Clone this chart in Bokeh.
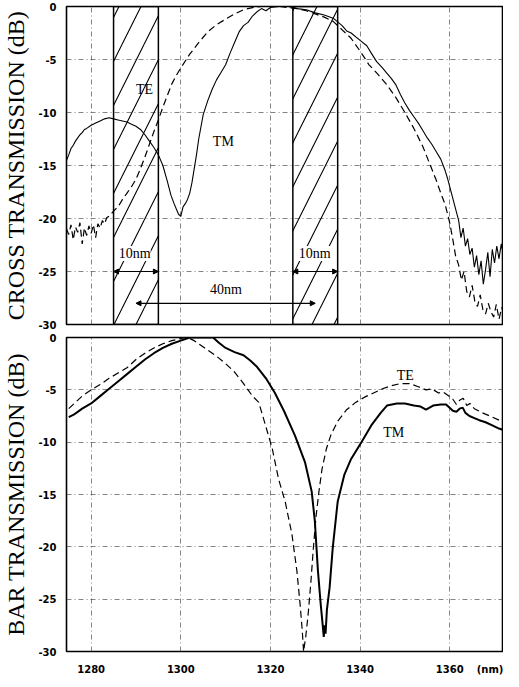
from bokeh.plotting import figure
from bokeh.layouts import column
from bokeh.models import Range1d, FixedTicker, Label, Arrow, NormalHead
from bokeh.embed import file_html
from bokeh.resources import INLINE

# ---------------- data ----------------
x_ticks = [1280, 1300, 1320, 1340, 1360]
unit_tick = 1369
y_ticks = [0, -5, -10, -15, -20, -25, -30]

band_left = [1285, 1325]
band_right = [1295, 1335]

# Top panel: cross transmission
cross_te_x = [1274.5, 1275, 1275.5, 1276, 1276.5, 1277, 1277.5, 1278, 1278.5, 1279, 1279.5, 1280,
              1280.5, 1281, 1281.5, 1282, 1282.5, 1283, 1283.5, 1284, 1285, 1286, 1287, 1288, 1289,
              1290, 1291, 1292, 1293, 1294, 1295, 1296, 1297, 1298, 1299, 1300, 1302, 1304, 1306,
              1308, 1310, 1312, 1314, 1316, 1318, 1320, 1322, 1324, 1326, 1328, 1330, 1332, 1334,
              1336, 1338, 1340, 1342, 1344, 1346, 1348, 1350, 1352, 1354, 1355.5, 1357, 1358, 1359,
              1360, 1360.7, 1361.3, 1362, 1362.6, 1363.2, 1363.8, 1364.4, 1365, 1365.6, 1366.2,
              1366.8, 1367.4, 1368, 1368.6, 1369.2, 1369.8, 1370.4, 1371, 1371.6, 1372]
cross_te_y = [-21.0, -21.5, -20.6, -22.0, -20.8, -21.3, -20.4, -22.4, -20.9, -21.6, -20.7, -21.4,
              -20.6, -21.8, -20.5, -20.9, -20.2, -20.5, -19.9, -19.8, -19.3, -18.9, -18.2, -17.6, -17.0,
              -16.3, -15.3, -14.2, -13.0, -11.8, -10.7, -9.5, -8.4, -7.3, -6.5, -5.8, -4.5, -3.4, -2.4,
              -1.7, -1.2, -0.7, -0.3, -0.1, 0.0, 0.0, 0.0, -0.1, -0.2, -0.4, -0.7, -1.0, -1.4,
              -2.2, -3.0, -4.2, -5.5, -6.4, -7.4, -8.6, -10.0, -11.5, -13.2, -14.8, -16.4, -17.6, -18.7,
              -20.4, -22.0, -23.5, -24.4, -25.8, -25.0, -26.9, -27.4, -26.3, -27.8, -28.3,
              -27.2, -28.6, -29.0, -28.0, -28.8, -29.3, -28.1, -29.5, -28.4, -28.9]

cross_tm_x = [1274.5, 1275, 1275.5, 1276, 1276.5, 1277, 1277.5, 1278, 1278.5, 1279, 1280, 1281, 1282,
              1283, 1284, 1285, 1286, 1287, 1288, 1289, 1290, 1291, 1292, 1293, 1294, 1295, 1296, 1297,
              1297.8, 1298.5, 1299, 1299.5, 1300, 1300.5, 1301, 1301.5, 1302, 1302.5, 1303, 1303.5,
              1304, 1305, 1306, 1307, 1308, 1309, 1310, 1311, 1312, 1313, 1314, 1315, 1316, 1317, 1318,
              1319, 1320, 1322, 1324, 1326, 1328, 1330, 1332, 1334, 1336, 1337, 1338, 1340, 1341.5,
              1342.5, 1343.7, 1345, 1346, 1347, 1348, 1349, 1350, 1351, 1352, 1353, 1354, 1355, 1356,
              1357, 1358, 1359, 1359.5, 1360, 1360.5, 1361, 1361.5, 1362, 1362.5, 1363, 1363.5, 1364,
              1364.5, 1365, 1365.5, 1366, 1366.5, 1367, 1367.5, 1368, 1368.5, 1369, 1369.5, 1370,
              1370.5, 1371, 1371.5, 1372]
cross_tm_y = [-14.5, -14.0, -13.4, -13.1, -12.7, -12.4, -12.1, -11.9, -11.6, -11.5, -11.2, -11.0, -10.8,
              -10.6, -10.5, -10.6, -10.7, -10.8, -10.9, -11.1, -11.3, -11.6, -12.1, -12.7, -13.3, -14.0,
              -15.0, -16.5, -17.8, -18.6, -19.1, -19.6, -19.8, -18.9, -18.6, -18.2, -17.6, -16.6, -15.3,
              -14.0, -12.5, -10.2, -8.9, -7.8, -6.9, -6.2, -5.5, -4.4, -3.4, -2.4, -1.8, -1.5, -0.9,
              -0.5, -0.2, -0.4, -0.1, 0.0, 0.0, -0.2, -0.3, -0.6, -0.8, -1.1, -1.8, -2.3, -2.5, -3.2,
              -3.7, -4.4, -5.2, -5.8, -6.3, -6.8, -7.4, -8.3, -9.1, -9.8, -10.4, -11.0, -11.7, -12.4,
              -13.0, -13.7, -14.4, -15.5, -16.2, -17.0, -17.8, -18.6, -19.4, -20.2, -21.8, -20.9, -22.6,
              -21.9, -23.4, -22.8, -24.6, -23.5, -25.3, -24.0, -26.2, -24.8, -23.2, -25.5, -22.9, -24.2,
              -22.6, -23.8, -22.4, -23.5]

# Bottom panel: bar transmission
bar_te_x = [1275, 1276.5, 1278, 1280, 1282, 1284, 1286, 1288, 1290, 1292, 1294, 1296, 1298, 1300, 1301,
            1302, 1303, 1304, 1306, 1308, 1310, 1312, 1314, 1315, 1316, 1317.4, 1318.9, 1320.4, 1321.8,
            1323.3, 1324.8, 1325.9, 1326.6, 1327.1, 1327.4, 1327.9, 1328.4, 1329.0, 1329.6, 1330.2,
            1330.8, 1331.5, 1332.5, 1333.5, 1335, 1337, 1339, 1341, 1343, 1345, 1347, 1349, 1351, 1353,
            1354.7, 1356, 1357.5, 1358.5, 1359.5, 1360.7, 1361.5, 1362.2, 1363, 1363.8, 1364.5, 1365.5,
            1367.3, 1369.5, 1371, 1372]
bar_te_y = [-6.8, -6.2, -5.6, -5.0, -4.5, -3.9, -3.4, -2.9, -2.1, -1.5, -1.0, -0.6, -0.3, -0.1, 0.0,
            -0.1, -0.3, -0.6, -1.2, -1.8, -2.5, -3.3, -4.4, -5.0, -5.6, -6.2, -8.4, -10.6, -13.5,
            -15.7, -18.8, -22.3, -25.4, -28.0, -30.0, -28.5, -26.5, -23.5, -20.0, -17.0,
            -14.8, -12.6, -10.6, -9.3, -8.0, -6.9, -6.2, -5.7, -5.3, -4.9, -4.6, -4.4, -4.4, -4.7,
            -5.0, -4.9, -5.3, -5.2, -5.5, -5.9, -6.4, -6.0, -5.8, -6.5, -6.3, -6.8,
            -7.2, -7.6, -7.9, -8.1]

bar_tm_x = [1275, 1276, 1277, 1278, 1280, 1282, 1284, 1286, 1288, 1290, 1292, 1294, 1296, 1298, 1300,
            1302, 1304, 1306, 1307.2, 1308.5, 1310, 1312, 1314, 1315.5, 1317, 1319, 1321, 1323, 1325.5,
            1327.7, 1329.2, 1329.9, 1330.6, 1331.2, 1331.6, 1331.9, 1332.1, 1332.3, 1332.6, 1333.2,
            1333.9, 1335, 1336.5, 1338, 1340.3, 1342.5, 1344.6, 1346, 1348.2, 1350, 1352, 1353.5,
            1354.7, 1356.3, 1358, 1359.2, 1360.7, 1361.5, 1362.2, 1362.9, 1363.5, 1364.4, 1365.5,
            1366.6, 1368, 1369.5, 1371, 1372.4]
bar_tm_y = [-7.6, -7.4, -7.1, -6.8, -6.3, -5.6, -4.9, -4.2, -3.5, -2.8, -2.1, -1.5, -1.0, -0.6, -0.3,
            0.0, 0.0, 0.0, 0.0, -0.5, -1.0, -1.4, -1.7, -2.2, -2.8, -3.9, -5.3, -7.0, -9.4,
            -11.9, -14.7, -17.5, -22.3, -25.4, -27.2, -28.6, -27.5, -28.3, -26.0, -23.9,
            -20.1, -15.7, -13.1, -11.6, -10.0, -8.4, -7.2, -6.5, -6.3, -6.3, -6.5, -6.6,
            -6.9, -6.5, -6.4, -6.4, -7.0, -7.1, -6.8, -6.7, -7.2, -7.5, -7.7,
            -7.9, -8.1, -8.4, -8.7, -8.9]

X_START, X_END = 1274.5, 1372.0
SERIF = "Liberation Serif"
TICKFONT = "DejaVu Sans"


def style(p, ylabel):
    p.background_fill_color = "white"
    p.border_fill_color = "white"
    p.outline_line_color = "black"
    p.outline_line_width = 1.6
    p.yaxis.ticker = FixedTicker(ticks=y_ticks)
    p.yaxis.major_label_overrides = {v: str(v) for v in y_ticks}
    p.yaxis.axis_label = ylabel
    p.yaxis.axis_label_text_font = SERIF
    p.yaxis.axis_label_text_font_size = "24px"
    p.yaxis.axis_label_text_font_style = "normal"
    p.yaxis.axis_label_text_color = "black"
    p.yaxis.axis_label_standoff = 6
    p.yaxis.major_label_text_font = TICKFONT
    p.yaxis.major_label_text_font_size = "10px"
    p.yaxis.major_label_text_font_style = "bold"
    p.yaxis.major_label_text_color = "black"
    p.yaxis.major_label_standoff = 4
    p.yaxis.major_tick_line_color = None
    p.yaxis.minor_tick_line_color = None
    p.yaxis.axis_line_color = None
    for g in p.grid:
        g.grid_line_color = "#333333"
        g.grid_line_alpha = 0.75
        g.grid_line_dash = "5 3 1 3"
        g.grid_line_width = 0.8
    p.xgrid.ticker = FixedTicker(ticks=x_ticks)


# ---------------- top panel ----------------
p1 = figure(width=503, height=331, output_backend="svg", toolbar_location=None,
            x_range=Range1d(X_START, X_END), y_range=Range1d(-30, 0),
            x_axis_location=None,
            min_border_left=60, min_border_right=0, min_border_top=6, min_border_bottom=7)
style(p1, "CROSS TRANSMISSION (dB)")

p1.quad(left=band_left, right=band_right, bottom=-30, top=0,
        fill_alpha=0, hatch_pattern="/", hatch_color="black", hatch_scale=44,
        hatch_weight=1.1, line_color="black", line_width=1.5)

p1.line(cross_te_x, cross_te_y, line_color="black", line_width=1.2, line_dash="7 4")
p1.line(cross_tm_x, cross_tm_y, line_color="black", line_width=1.1)

for l, r in zip(band_left, band_right):
    p1.add_layout(Arrow(x_start=l, y_start=-25, x_end=r, y_end=-25, line_width=1.2,
                        start=NormalHead(size=5, fill_color="black", line_color="black"),
                        end=NormalHead(size=5, fill_color="black", line_color="black")))
centers = [(l + r) / 2 for l, r in zip(band_left, band_right)]
p1.add_layout(Arrow(x_start=centers[0], y_start=-28, x_end=centers[1], y_end=-28, line_width=1.2,
                    start=NormalHead(size=5, fill_color="black", line_color="black"),
                    end=NormalHead(size=5, fill_color="black", line_color="black")))

for x, y, t in [(1291.9, -7.8, "TE"), (1309.5, -12.7, "TM"), (1289.7, -23.3, "10nm"),
                (1329.9, -23.3, "10nm"), (1310.1, -26.7, "40nm")]:
    p1.add_layout(Label(x=x, y=y, text=t, text_font=SERIF, text_font_size="14px",
                        text_align="center", text_baseline="middle", text_color="black",
                        background_fill_color="white" if "nm" in t else None))

# ---------------- bottom panel ----------------
p2 = figure(width=503, height=346, output_backend="svg", toolbar_location=None,
            x_range=Range1d(X_START, X_END), y_range=Range1d(-30, 0),
            min_border_left=60, min_border_right=0, min_border_top=6, min_border_bottom=22)
style(p2, "BAR TRANSMISSION (dB)")
p2.xaxis.ticker = FixedTicker(ticks=x_ticks + [unit_tick])
p2.xaxis.major_label_overrides = {unit_tick: "(nm)"}
p2.xaxis.major_label_text_font = TICKFONT
p2.xaxis.major_label_text_font_size = "10px"
p2.xaxis.major_label_text_font_style = "bold"
p2.xaxis.major_label_text_color = "black"
p2.xaxis.major_tick_line_color = None
p2.xaxis.minor_tick_line_color = None
p2.xaxis.axis_line_color = None
p2.xaxis.major_label_standoff = 6

p2.line(bar_te_x, bar_te_y, line_color="black", line_width=1.2, line_dash="7 4")
p2.line(bar_tm_x, bar_tm_y, line_color="black", line_width=2.0)

for x, y, t in [(1350.1, -3.6, "TE"), (1347.5, -9.1, "TM")]:
    p2.add_layout(Label(x=x, y=y, text=t, text_font=SERIF, text_font_size="14px",
                        text_align="center", text_baseline="middle", text_color="black"))

layout = column(p1, p2)
open("out.html", "w").write(file_html(layout, INLINE))
